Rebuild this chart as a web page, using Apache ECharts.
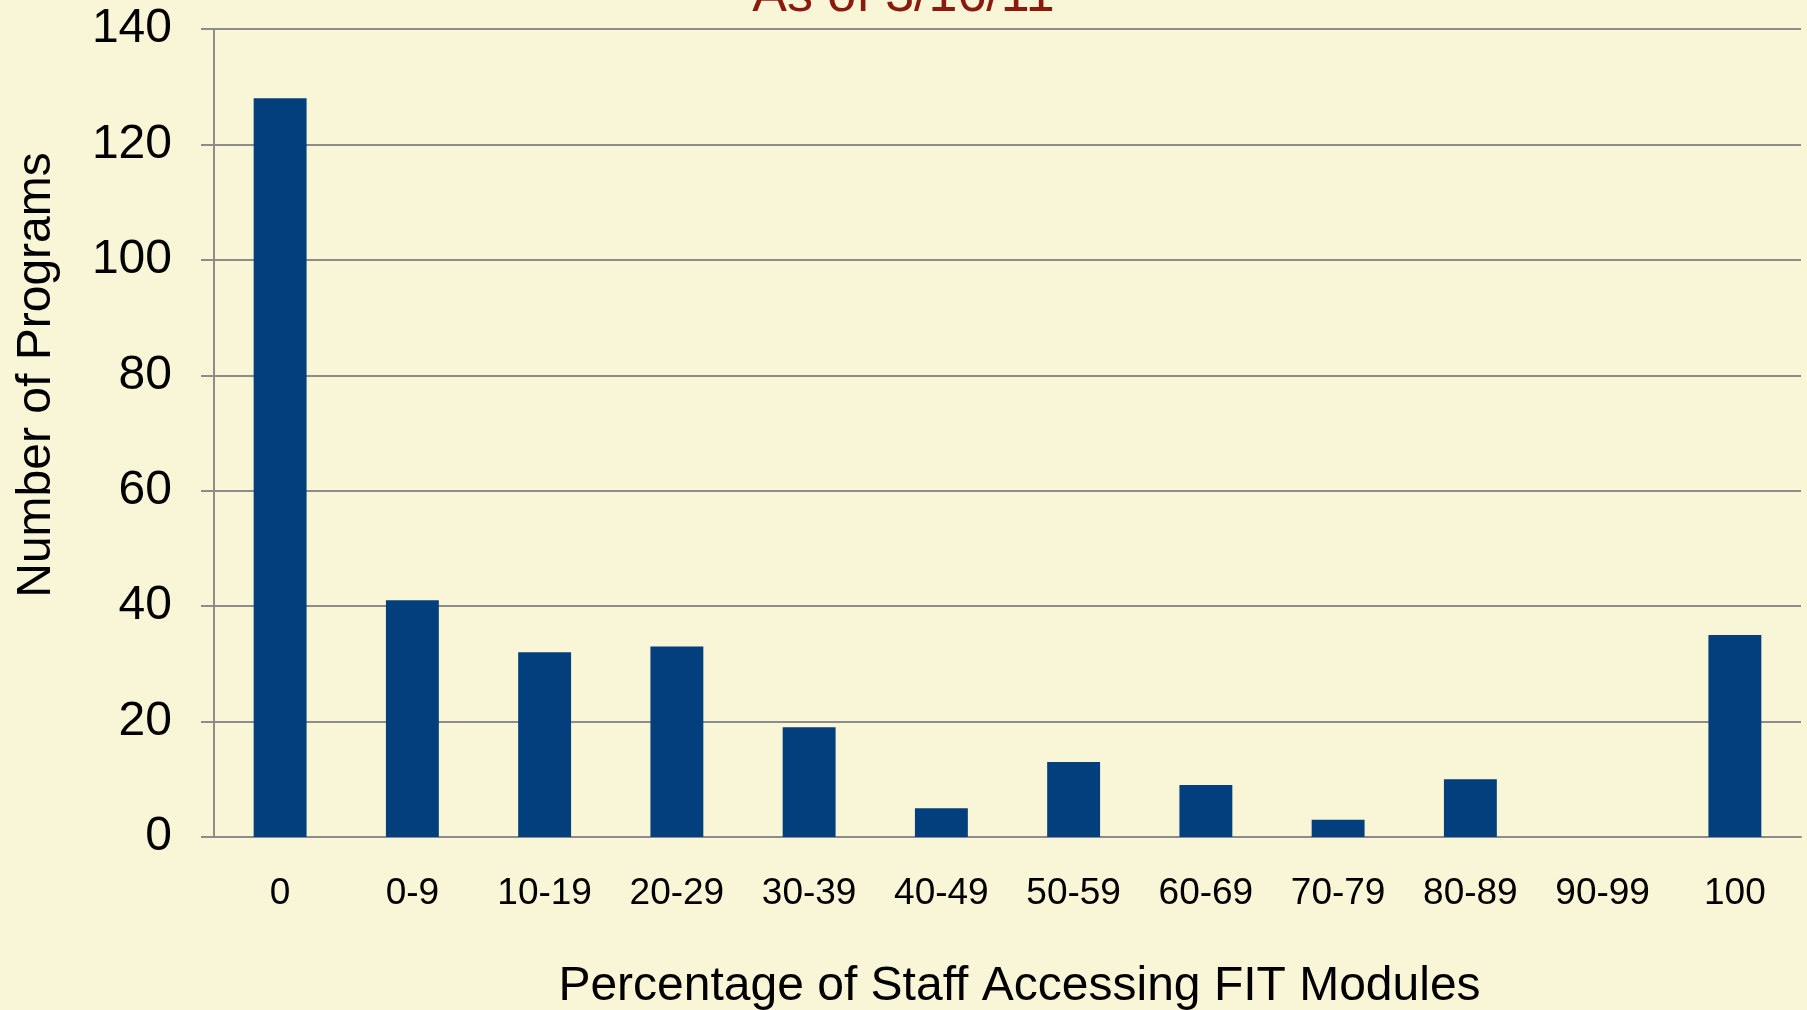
<!DOCTYPE html>
<html>
<head>
<meta charset="utf-8">
<script src="https://cdn.jsdelivr.net/npm/echarts@6/dist/echarts.min.js"></script>
<style>
html, body { margin: 0; padding: 0; background: #f9f5d7; }
#chart { width: 1807px; height: 1010px; }
</style>
</head>
<body>
<div id="chart"></div>
<script>
// categories / values
var categories = ['0', '0-9', '10-19', '20-29', '30-39', '40-49', '50-59', '60-69', '70-79', '80-89', '90-99', '100'];
var programs = [128, 41, 32, 33, 19, 5, 13, 9, 3, 10, 0, 35];

var chart = echarts.init(document.getElementById('chart'));

var option = {
    backgroundColor: '#f9f5d7',
    textStyle: { fontFamily: 'Liberation Sans, Arial, sans-serif' },
    title: {
        text: 'As of 3/16/11',
        left: 'center',
        top: -34,
        textStyle: { color: '#8b1a0e', fontSize: 52, fontWeight: 'normal' }
    },
    // y axis name sits a bit above the plot middle, so it is drawn here
    graphic: [{
        type: 'text',
        x: 37,
        y: 375,
        rotation: Math.PI / 2,
        style: {
            text: 'Number of Programs',
            fill: '#000',
            font: '48px "Liberation Sans", Arial, sans-serif',
            textAlign: 'center',
            textVerticalAlign: 'middle'
        }
    }],
    grid: { left: 214, right: 6, top: 29, bottom: 173, outerBoundsMode: 'none' },
    xAxis: {
        type: 'category',
        data: categories,
        name: 'Percentage of Staff Accessing FIT Modules',
        nameLocation: 'middle',
        nameGap: 126,
        nameTextStyle: { color: '#000', fontSize: 48, padding: [0, 0, 0, 24] },
        axisLine: { lineStyle: { color: '#8c8c8c', width: 2 } },
        axisTick: { length: 10, lineStyle: { color: '#8c8c8c', width: 2 } },
        axisLabel: { color: '#000', fontSize: 37, margin: 38, interval: 0 }
    },
    yAxis: {
        type: 'value',
        min: 0,
        max: 140,
        interval: 20,
        axisLine: { show: true, lineStyle: { color: '#8c8c8c', width: 2 } },
        axisTick: { show: true, length: 13, lineStyle: { color: '#8c8c8c', width: 2 } },
        axisLabel: { color: '#000', fontSize: 48, margin: 42 },
        splitLine: { lineStyle: { color: '#8c8c8c', width: 2 } }
    },
    series: [{
        type: 'bar',
        data: programs,
        barWidth: '40%',
        itemStyle: { color: '#023f7c' }
    }]
};

chart.setOption(option);
</script>
</body>
</html>
